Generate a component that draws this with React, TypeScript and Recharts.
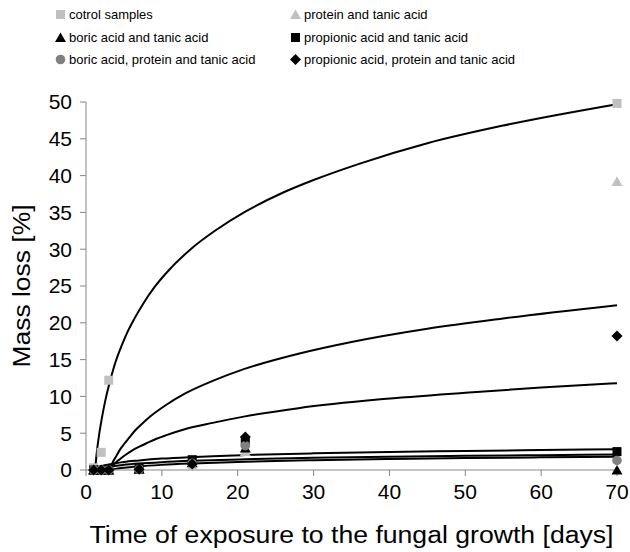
import React from "react";
import { ComposedChart, Scatter, Line, XAxis, YAxis, Label } from "recharts";

const days = [1, 2, 3, 7, 14, 21, 70];
const controlDays = [1, 2, 3, 70];
const controlLoss = [0.3, 2.4, 12.2, 49.8];
const proteinLoss = [0, 0, 0, 0.1, 0.5, 2.5, 39.2];
const boricLoss = [0, 0, 0, 0.1, 1.0, 3.0, 0];
const propionicLoss = [0, 0, 0, 0.2, 1.4, 3.8, 2.5];
const boricProteinLoss = [0, 0, 0, 0.1, 0.9, 3.3, 1.3];
const propionicProteinLoss = [0, 0, 0, 0.1, 0.8, 4.5, 18.2];

// trend lines
const controlTrendX = [1.2, 1.4, 1.7, 2, 2.3, 2.6, 3.2, 3.6, 4.1, 4.7, 5.4, 6.4, 7.6, 9, 10.7, 13.8, 17, 21, 26, 30, 36, 45, 55, 70];
const controlTrendY = [0, 2.2, 4.6, 6.5, 8.2, 9.7, 12.2, 13.7, 15.3, 16.9, 18.6, 20.6, 22.7, 24.8, 26.9, 30.0, 32.5, 35.1, 37.7, 39.4, 41.6, 44.4, 46.8, 49.7];
const proteinTrendX = [3.1, 3.5, 4, 4.5, 5, 5.7, 6.5, 7.5, 8.5, 10.5, 12.9, 16.7, 20.8, 28, 35, 45, 55, 70];
const proteinTrendY = [0, 1.0, 1.9, 2.8, 3.5, 4.4, 5.4, 6.4, 7.3, 8.8, 10.3, 12.1, 13.7, 15.8, 17.4, 19.2, 20.6, 22.4];
const propProtTrendX = [3.0, 3.5, 4, 4.5, 5, 5.7, 6.5, 7.5, 8.5, 10.5, 12.9, 16.7, 20.8, 28, 38.8, 50, 60, 70];
const propProtTrendY = [0, 0.6, 1.1, 1.5, 1.9, 2.4, 2.9, 3.4, 3.9, 4.7, 5.5, 6.4, 7.25, 8.4, 9.6, 10.5, 11.2, 11.8];
const propionicTrendX = [1, 2, 3, 5, 7, 10, 14, 21, 30, 40, 50, 60, 70];
const propionicTrendY = [0.05, 0.5, 0.76, 1.1, 1.3, 1.55, 1.77, 2.03, 2.26, 2.45, 2.59, 2.71, 2.81];
const boricProtTrendX = [1.3, 2, 3, 5, 7, 10, 14, 21, 30, 40, 50, 60, 70];
const boricProtTrendY = [0, 0.22, 0.43, 0.7, 0.88, 1.07, 1.25, 1.46, 1.65, 1.8, 1.92, 2.02, 2.1];
const boricTrendX = [3, 5, 7, 10, 14, 21, 30, 40, 50, 60, 70];
const boricTrendY = [0.02, 0.31, 0.5, 0.7, 0.89, 1.13, 1.33, 1.49, 1.62, 1.72, 1.8];

const xTicks = [0, 10, 20, 30, 40, 50, 60, 70];
const yTicks = [0, 5, 10, 15, 20, 25, 30, 35, 40, 45, 50];

const pts = (xs: number[], ys: number[]) => xs.map((x, i) => ({ x, y: ys[i] }));

const font = '"Liberation Sans", Arial, sans-serif';
const lightGray = "#c0c0c0";
const midGray = "#808080";
const axisGray = "#868686";

type Kind = "square" | "triangle" | "circle" | "diamond";

const marker = (kind: Kind, fill: string, cx: number, cy: number) => {
  if (kind === "square") return <rect x={cx - 4.5} y={cy - 4.5} width={9} height={9} fill={fill} />;
  if (kind === "triangle")
    return <polygon points={`${cx},${cy - 5} ${cx + 5.5},${cy + 4.5} ${cx - 5.5},${cy + 4.5}`} fill={fill} />;
  if (kind === "circle") return <circle cx={cx} cy={cy} r={4.8} fill={fill} />;
  return <polygon points={`${cx},${cy - 5.5} ${cx + 5.5},${cy} ${cx},${cy + 5.5} ${cx - 5.5},${cy}`} fill={fill} />;
};

const shape = (kind: Kind, fill: string) => (p: any) => marker(kind, fill, p.cx, p.cy);

const series: { name: string; kind: Kind; fill: string; data: { x: number; y: number }[] }[] = [
  { name: "cotrol samples", kind: "square", fill: lightGray, data: pts(controlDays, controlLoss) },
  { name: "protein and tanic acid", kind: "triangle", fill: lightGray, data: pts(days, proteinLoss) },
  { name: "boric acid and tanic acid", kind: "triangle", fill: "#000", data: pts(days, boricLoss) },
  { name: "propionic acid and tanic acid", kind: "square", fill: "#000", data: pts(days, propionicLoss) },
  { name: "boric acid, protein and tanic acid", kind: "circle", fill: midGray, data: pts(days, boricProteinLoss) },
  { name: "propionic acid, protein and tanic acid", kind: "diamond", fill: "#000", data: pts(days, propionicProteinLoss) },
];

const trends = [
  pts(controlTrendX, controlTrendY),
  pts(proteinTrendX, proteinTrendY),
  pts(propProtTrendX, propProtTrendY),
  pts(propionicTrendX, propionicTrendY),
  pts(boricProtTrendX, boricProtTrendY),
  pts(boricTrendX, boricTrendY),
];

const LegendBox = () => (
  <div style={{ position: "absolute", left: 0, top: 0, width: 630, fontFamily: font, fontSize: 13, color: "#000" }}>
    {series.map((s, i) => {
      const col = i % 2;
      const row = Math.floor(i / 2);
      return (
        <div
          key={s.name}
          style={{
            position: "absolute",
            left: col === 0 ? 54 : 289,
            top: 7 + row * 22.5,
            display: "flex",
            alignItems: "center",
            whiteSpace: "nowrap",
          }}
        >
          <svg width={13} height={13} style={{ marginRight: 2 }}>
            {marker(s.kind, s.fill, 6.5, 6.5)}
          </svg>
          <span>{s.name}</span>
        </div>
      );
    })}
  </div>
);

const XTitle = (props: any) => {
  const vb = props.viewBox;
  return (
    <text
      x={vb.x + vb.width / 2}
      y={vb.y + 65}
      textAnchor="middle"
      dominantBaseline="central"
      textLength={524}
      lengthAdjust="spacingAndGlyphs"
      fontFamily={font}
      fontSize={23}
      fill="#000"
    >
      Time of exposure to the fungal growth [days]
    </text>
  );
};

const YTitle = (props: any) => {
  const vb = props.viewBox;
  const cx = 22;
  const cy = vb.y + vb.height / 2;
  return (
    <text
      x={cx}
      y={cy}
      transform={`rotate(-90 ${cx} ${cy})`}
      textAnchor="middle"
      dominantBaseline="central"
      textLength={163}
      lengthAdjust="spacingAndGlyphs"
      fontFamily={font}
      fontSize={23}
      fill="#000"
    >
      Mass loss [%]
    </text>
  );
};

export default function App() {
  return (
    <div style={{ position: "absolute", left: 0, top: 0, width: 630, height: 552, background: "#fff" }}>
      <LegendBox />
      <ComposedChart width={630} height={552} margin={{ top: 102, right: 13, bottom: 12, left: 0 }}>
        <XAxis
          dataKey="x"
          type="number"
          domain={[0, 70]}
          ticks={xTicks}
          interval={0}
          height={70}
          stroke={axisGray}
          tickSize={6}
          tickMargin={8}
          tick={{ fill: "#000", fontSize: 21, fontFamily: font }}
        >
          <Label content={XTitle} />
        </XAxis>
        <YAxis
          dataKey="y"
          type="number"
          domain={[0, 50]}
          ticks={yTicks}
          interval={0}
          width={86}
          stroke={axisGray}
          tickSize={6}
          tickMargin={8}
          tick={{ fill: "#000", fontSize: 21, fontFamily: font }}
        >
          <Label content={YTitle} />
        </YAxis>
        {series.map((s) => (
          <Scatter key={s.name} name={s.name} data={s.data} shape={shape(s.kind, s.fill)} isAnimationActive={false} />
        ))}
        {trends.map((t, i) => (
          <Line
            key={i}
            data={t}
            dataKey="y"
            type="monotone"
            stroke="#000"
            strokeWidth={2}
            dot={false}
            activeDot={false}
            legendType="none"
            isAnimationActive={false}
          />
        ))}
      </ComposedChart>
    </div>
  );
}
